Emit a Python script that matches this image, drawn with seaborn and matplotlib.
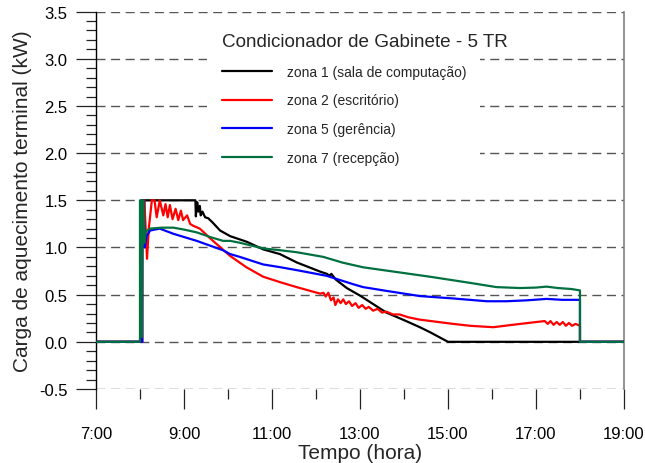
import numpy as np
import pandas as pd
import matplotlib
matplotlib.use("Agg")
import matplotlib.pyplot as plt
import seaborn as sns
from matplotlib.ticker import MultipleLocator, FuncFormatter
from matplotlib.patches import Rectangle

sns.set_theme(style="white")
plt.rcParams['font.family'] = ['Liberation Sans', 'DejaVu Sans']

# ---------------- data (hours, kW) ----------------
zona1_h = [7.0, 8.05, 8.05, 8.08, 8.09, 8.10, 9.26, 9.27, 9.30, 9.33, 9.36, 9.38, 9.42, 9.48,
           9.55, 9.64, 9.82, 10.05, 10.43, 10.80, 11.18, 11.57, 11.90, 12.09, 12.25, 12.30,
           12.35, 12.45, 12.70, 13.00, 13.30, 13.60, 14.00, 14.36, 14.60, 15.00, 18.00, 19.00]
zona1_v = [0.0, 0.0, 1.5, 1.5, 1.2, 1.5, 1.5, 1.33, 1.48, 1.38, 1.44, 1.34, 1.38, 1.32,
           1.31, 1.27, 1.18, 1.12, 1.06, 0.98, 0.93, 0.84, 0.78, 0.745, 0.72, 0.70,
           0.72, 0.66, 0.57, 0.49, 0.40, 0.31, 0.23, 0.155, 0.10, 0.0, 0.0, 0.0]

zona2_h = [7.0, 8.05, 8.05, 8.10, 8.16, 8.20, 8.27, 8.33, 8.38, 8.45, 8.53, 8.58, 8.63, 8.68,
           8.74, 8.81, 8.87, 8.93, 8.98, 9.07, 9.14, 9.21, 9.36, 9.52, 9.66, 10.05, 10.42,
           10.80, 11.20, 11.56, 12.10, 12.17, 12.22, 12.28, 12.34, 12.40, 12.44, 12.50, 12.56,
           12.62, 12.68, 12.75, 12.82, 12.90, 12.97, 13.05, 13.13, 13.20, 13.30, 13.40, 13.50,
           13.60, 13.75, 13.90, 14.10, 14.36, 15.12, 15.50, 16.03, 16.64, 17.20, 17.27, 17.33,
           17.40, 17.47, 17.54, 17.61, 17.68, 17.75, 17.82, 17.90, 18.00, 18.00, 19.00]
zona2_v = [0.0, 0.0, 1.5, 1.5, 0.88, 1.2, 1.5, 1.5, 1.32, 1.5, 1.34, 1.46, 1.32, 1.45,
           1.30, 1.41, 1.29, 1.39, 1.29, 1.34, 1.25, 1.23, 1.20, 1.13, 1.07, 0.91, 0.79,
           0.69, 0.63, 0.58, 0.51, 0.52, 0.48, 0.52, 0.44, 0.47, 0.39, 0.45, 0.41,
           0.45, 0.40, 0.43, 0.38, 0.41, 0.36, 0.39, 0.35, 0.37, 0.33, 0.35, 0.31,
           0.32, 0.29, 0.29, 0.26, 0.235, 0.19, 0.17, 0.155, 0.19, 0.22, 0.19, 0.22,
           0.18, 0.21, 0.18, 0.21, 0.17, 0.20, 0.17, 0.19, 0.17, 0.0, 0.0]

zona5_h = [7.0, 8.05, 8.05, 8.08, 8.11, 8.15, 8.23, 8.45, 8.76, 9.29, 9.89, 10.05, 10.27, 10.80,
           11.20, 11.56, 12.24, 12.85, 13.07, 13.60, 14.36, 15.11, 15.88, 16.33, 16.80, 17.24,
           17.60, 18.00, 18.00, 19.00]
zona5_v = [0.0, 0.0, 1.5, 1.5, 1.0, 1.12, 1.18, 1.20, 1.145, 1.07, 0.97, 0.93, 0.90, 0.82,
           0.79, 0.76, 0.70, 0.61, 0.58, 0.54, 0.485, 0.46, 0.43, 0.43, 0.44, 0.455,
           0.445, 0.445, 0.0, 0.0]

zona7_h = [7.0, 8.0, 8.0, 8.03, 8.04, 8.06, 8.08, 8.10, 8.13, 8.23, 8.50, 8.76, 9.00, 9.29,
           9.60, 9.89, 10.05, 10.27, 10.80, 11.20, 11.56, 12.17, 12.60, 13.07, 13.83, 14.59,
           15.50, 16.10, 16.64, 17.00, 17.24, 17.50, 17.80, 18.00, 18.00, 19.00]
zona7_v = [0.0, 0.0, 1.5, 1.5, 0.05, 1.5, 1.5, 1.05, 1.17, 1.20, 1.21, 1.21, 1.19, 1.16,
           1.11, 1.07, 1.07, 1.05, 0.99, 0.97, 0.95, 0.90, 0.84, 0.79, 0.74, 0.69,
           0.625, 0.58, 0.57, 0.575, 0.585, 0.57, 0.56, 0.545, 0.0, 0.0]

zonas = ["zona 1 (sala de computação)", "zona 2 (escritório)",
         "zona 5 (gerência)", "zona 7 (recepção)"]
cores = ["#000000", "#ff0000", "#0000ff", "#007040"]
x_ticks = [7, 9, 11, 13, 15, 17, 19]
y_ticks = [-0.5, 0.0, 0.5, 1.0, 1.5, 2.0, 2.5, 3.0, 3.5]

frames = []
for nome, hh, vv in zip(zonas, [zona1_h, zona2_h, zona5_h, zona7_h],
                        [zona1_v, zona2_v, zona5_v, zona7_v]):
    frames.append(pd.DataFrame({"hora": hh, "carga": vv, "zona": nome}))
df = pd.concat(frames, ignore_index=True)

# ---------------- figure ----------------
fig = plt.figure(figsize=(6.45, 4.64), dpi=100)
ax = fig.add_axes([0.1488, 0.1595, 0.9674 - 0.1488, 0.9728 - 0.1595])

# dashed horizontal grid
for yv in y_ticks:
    ax.axhline(yv, color="#555555", lw=1.0, ls=(0, (6.5, 4)), zorder=1)

# white backing behind the legend entries (hides grid there)
ax.add_patch(Rectangle((0.21, 0.578), 0.517, 0.38, transform=ax.transAxes,
                       facecolor="white", edgecolor="none", zorder=2))

sns.lineplot(data=df, x="hora", y="carga", hue="zona", hue_order=zonas,
             palette=cores, estimator=None, sort=False, units="zona",
             lw=1.6, ax=ax, zorder=3)

ax.set_xlim(7, 19)
ax.set_ylim(-0.5, 3.5)
ax.set_xticks(x_ticks)
ax.xaxis.set_major_formatter(FuncFormatter(lambda v, p: f"{int(round(v))}:00"))
ax.xaxis.set_minor_locator(MultipleLocator(1))
ax.set_yticks(y_ticks)
ax.yaxis.set_major_formatter(FuncFormatter(lambda v, p: f"{v:.1f}"))
ax.yaxis.set_minor_locator(MultipleLocator(0.1))

ax.tick_params(axis="both", which="major", direction="out", length=14.5, width=0.9,
               color="#222222", labelsize=12)
ax.tick_params(axis="both", which="minor", direction="out", length=7.5, width=0.9,
               color="#222222")
ax.tick_params(axis="x", which="major", pad=12.5, labelcolor="black")
ax.tick_params(axis="y", which="major", pad=6, labelcolor="black")
ax.tick_params(left=True, bottom=True, right=False, top=False)
ax.tick_params(axis="x", which="minor", bottom=True)
ax.tick_params(axis="y", which="minor", left=True)

for s in ["top", "bottom"]:
    ax.spines[s].set_visible(False)
ax.spines["left"].set_color("black")
ax.spines["left"].set_linewidth(1.0)
ax.spines["right"].set_color("#808080")
ax.spines["right"].set_linewidth(1.2)

ax.set_xlabel("Tempo (hora)", fontsize=15, labelpad=1)
ax.set_ylabel("Carga de aquecimento terminal (kW)", fontsize=15, labelpad=5)

leg = ax.legend(title="Condicionador de Gabinete - 5 TR", loc="upper left",
                bbox_to_anchor=(0.199, 0.998), frameon=False, fontsize=10,
                title_fontsize=13.6, handlelength=3.6, handletextpad=1.1,
                labelspacing=1.05, alignment="left", borderpad=1.0)
for ln in leg.get_lines():
    ln.set_linewidth(1.6)

fig.savefig("out.png", dpi=100)
